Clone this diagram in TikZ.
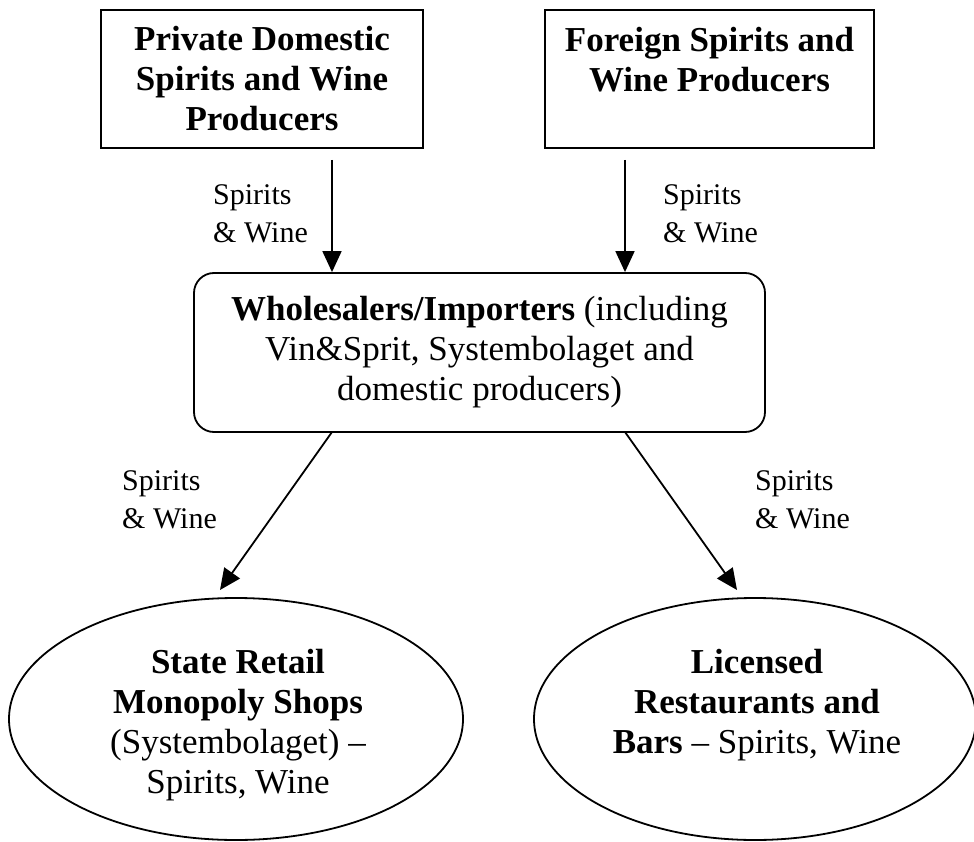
\documentclass[tikz,border=0pt]{standalone}
\usepackage{fontspec}
\setmainfont{Liberation Serif}
\usetikzlibrary{shapes.geometric,arrows.meta}
\begin{document}
\begin{tikzpicture}[x=1pt,y=-1pt,
  every node/.style={inner sep=0pt, font=\fontsize{35}{40}\selectfont},
  boxnode/.style={draw, line width=1.8pt, align=center, font=\fontsize{35}{40}\selectfont\bfseries},
  roundbox/.style={draw, line width=1.8pt, align=center, rounded corners=20pt, font=\fontsize{35}{40}\selectfont},
  ellnode/.style={draw, ellipse, line width=1.8pt},
  bigtxt/.style={align=center, font=\fontsize{35}{40}\selectfont},
  flow/.style={line width=1.8pt, -{Triangle[length=21pt,width=19pt]}},
  lbl/.style={align=left, anchor=west, font=\fontsize{30}{38}\selectfont}]
\useasboundingbox (0,0) rectangle (974,842);

\node[boxnode, minimum width=322pt, minimum height=138pt] (b1) at (262,79)
  {Private Domestic\\Spirits and Wine\\Producers};
\node[boxnode, minimum width=329pt, minimum height=138pt] (b2) at (709.5,79)
  {Foreign Spirits and\\Wine Producers\\~};
\node[roundbox, minimum width=571pt, minimum height=159pt] (w) at (479.5,352.5)
  {\textbf{Wholesalers/Importers} (including\\Vin\&Sprit, Systembolaget and\\domestic producers)};

\node[ellnode, minimum width=454pt, minimum height=242pt] (e1) at (236,719) {};
\node[bigtxt] (e1t) at (238,725)
  {\textbf{State Retail}\\\textbf{Monopoly Shops}\\(Systembolaget) --\\Spirits, Wine};
\node[ellnode, minimum width=442pt, minimum height=242pt] (e2) at (755,719) {};
\node[bigtxt] (e2t) at (757,705)
  {\textbf{Licensed}\\\textbf{Restaurants and}\\\textbf{Bars} -- Spirits, Wine};

\coordinate (s1) at (332,160);
\coordinate (s2) at (625,160);
\coordinate (s3) at (332,432);
\coordinate (t3) at (220,590);
\coordinate (s4) at (625,432);
\coordinate (t4) at (737,590);

\draw[flow] (s1) -- (s1 |- w.north);
\draw[flow] (s2) -- (s2 |- w.north);
\draw[flow] (s3) -- (t3);
\draw[flow] (s4) -- (t4);

\node[lbl] (l1) at (213,214) {Spirits\\\& Wine};
\node[lbl] (l2) at (663,214) {Spirits\\\& Wine};
\node[lbl] (l3) at (122,500) {Spirits\\\& Wine};
\node[lbl] (l4) at (755,500) {Spirits\\\& Wine};
\end{tikzpicture}
\end{document}
